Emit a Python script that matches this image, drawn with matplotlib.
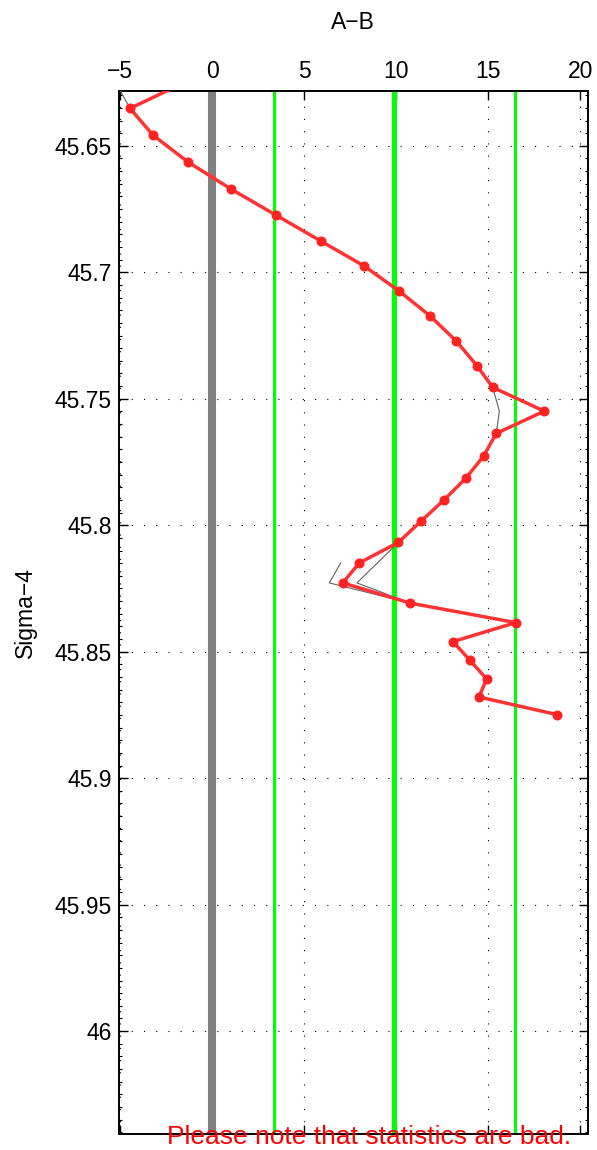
import matplotlib
matplotlib.use("Agg")
import matplotlib.pyplot as plt
from matplotlib.ticker import MultipleLocator, FuncFormatter

plt.rcParams['font.family'] = ['Liberation Sans', 'DejaVu Sans']

# ---- data ----
sigma = [45.6246, 45.6352, 45.6458, 45.6564, 45.6671, 45.6774, 45.6877, 45.6975,
         45.7074, 45.7173, 45.7272, 45.7371, 45.7455, 45.7549, 45.7637, 45.7726,
         45.7815, 45.7900, 45.7983, 45.8068, 45.8149, 45.8228, 45.8308, 45.8385,
         45.8460, 45.8534, 45.8608, 45.8679, 45.8749]
ab_red = [-1.40, -4.47, -3.22, -1.32, 1.02, 3.46, 5.91, 8.25,
          10.15, 11.84, 13.26, 14.40, 15.24, 18.04, 15.43, 14.75,
          13.77, 12.59, 11.36, 10.11, 7.99, 7.09, 10.76, 16.49,
          13.08, 14.00, 14.91, 14.49, 18.75]

sigma_gray = [45.6246, 45.6352, 45.6458, 45.6564, 45.6671, 45.6774, 45.6877, 45.6975,
              45.7074, 45.7173, 45.7272, 45.7371, 45.7455, 45.7549, 45.7637, 45.7726,
              45.7815, 45.7900, 45.7983, 45.8068, 45.8228, 45.8308, 45.8385,
              45.8460, 45.8534, 45.8608, 45.8679, 45.8749]
ab_gray = [-5.28, -4.47, -3.22, -1.32, 1.02, 3.46, 5.91, 8.25,
           10.15, 11.84, 13.26, 14.40, 15.24, 15.60, 15.43, 14.75,
           13.77, 12.59, 11.36, 10.11, 7.86, 10.76, 16.49,
           13.08, 14.00, 14.91, 14.49, 18.75]

sigma_gray2 = [45.8149, 45.8228, 45.8308]
ab_gray2 = [6.98, 6.36, 10.76]

mean_val = 9.9
band_lo = 3.35
band_hi = 16.45

xticks = [-5, 0, 5, 10, 15, 20]
yticks = [45.65, 45.7, 45.75, 45.8, 45.85, 45.9, 45.95, 46.0]

# ---- figure ----
fig = plt.figure(figsize=(5.97, 11.5), dpi=100)
ax = fig.add_axes([0.1993, 0.01365, 0.7851, 0.9075])

ax.axvline(0, color='#808080', lw=5.8, zorder=2)
ax.axvline(band_lo, color='#00ff00', lw=2.2, zorder=2)
ax.axvline(mean_val, color='#00ff00', lw=3.6, zorder=2)
ax.axvline(band_hi, color='#00ff00', lw=2.2, zorder=2)

ax.plot(ab_gray, sigma_gray, color='#606060', lw=0.8, zorder=3)
ax.plot(ab_gray2, sigma_gray2, color='#606060', lw=0.8, zorder=3)
ax.plot(ab_red, sigma, color='#ff3333', lw=2.5, marker='o', ms=6.2,
        mfc='#ff2222', mec='#ff2222', zorder=4)

ax.set_xlim(-5.07, 20.40)
ax.set_ylim(46.0408, 45.6282)

ax.set_xticks(xticks)
ax.set_yticks(yticks)
ax.yaxis.set_minor_locator(MultipleLocator(0.005))
ax.xaxis.set_major_formatter(FuncFormatter(lambda v, p: ('%g' % v).replace('-', '\u2212')))
ax.yaxis.set_major_formatter(FuncFormatter(lambda v, p: '%g' % v))

ax.xaxis.tick_top()
ax.tick_params(which='both', direction='in', top=True, bottom=True, left=True, right=True,
               labeltop=True, labelbottom=False, labelsize=16.5)
ax.tick_params(which='major', length=6.5, width=1.0, pad=5.3)
ax.tick_params(which='minor', length=2.0, width=0.8)
ax.tick_params(axis='x', which='minor', top=False, bottom=False)

ax.grid(True, which='major', color='black', lw=0.8, linestyle=(0, (1, 10)), zorder=1)
ax.set_axisbelow(True)

for s in ax.spines.values():
    s.set_linewidth(1.4)
    s.set_color('black')

ax.xaxis.set_label_position('top')
ax.set_xlabel('A\u2212B', fontsize=16.5)
ax.xaxis.set_label_coords(0.5, 1.0588)
ax.xaxis.label.set_verticalalignment('baseline')
ax.set_ylabel('Sigma\u22124', fontsize=16.5)
ax.yaxis.set_label_coords(-0.176, 0.5)

fig.text(369 / 597, 6 / 1150, 'Please note that statistics are bad.', color='red',
         fontsize=19, ha='center', va='baseline')

fig.savefig('out.png', dpi=100)
